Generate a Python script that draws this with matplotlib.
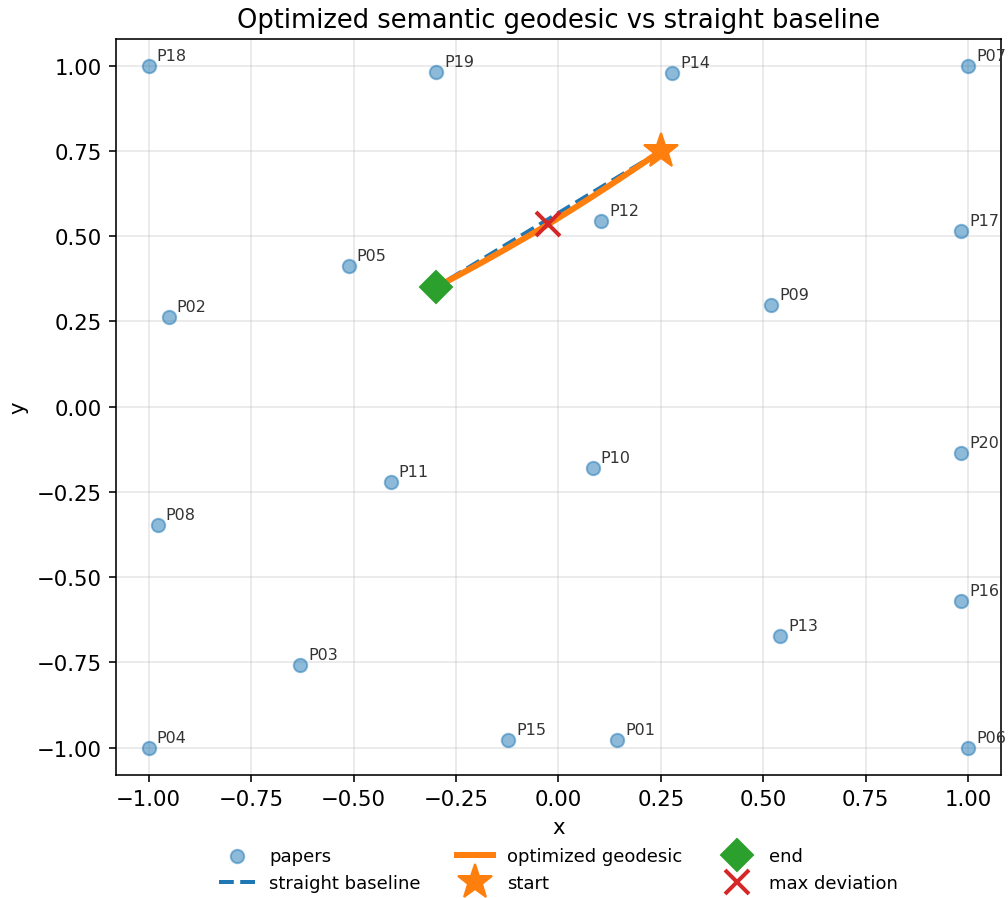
import matplotlib
matplotlib.use("Agg")
import matplotlib.pyplot as plt

paper_ids = ["P01","P02","P03","P04","P05","P06","P07","P08","P09","P10",
             "P11","P12","P13","P14","P15","P16","P17","P18","P19","P20"]
paper_x = [0.143, -0.951, -0.631, -1.0, -0.512, 1.0, 1.0, -0.978, 0.519, 0.084,
           -0.409, 0.104, 0.541, 0.277, -0.123, 0.983, 0.983, -1.0, -0.299, 0.983]
paper_y = [-0.979, 0.263, -0.759, -1.0, 0.413, -1.0, 1.0, -0.348, 0.298, -0.181,
           -0.222, 0.545, -0.674, 0.98, -0.979, -0.571, 0.515, 1.0, 0.982, -0.137]

start = (0.25, 0.75)
end = (-0.30, 0.35)

geo_x = [0.25, 0.195, 0.14, 0.085, 0.03, -0.025, -0.08, -0.135, -0.19, -0.245, -0.30]
geo_y = [0.75, 0.705, 0.661, 0.618, 0.576, 0.535, 0.496, 0.458, 0.421, 0.385, 0.35]

max_dev = (-0.025, 0.535)

fig = plt.figure(figsize=(7.0, 6.243), dpi=144)
ax = fig.add_axes([0.115, 0.137, 0.878, 0.819])

ax.scatter(paper_x, paper_y, s=45, color="#1f77b4", alpha=0.5, label="papers", zorder=2)
for pid, px, py in zip(paper_ids, paper_x, paper_y):
    ax.annotate(pid, (px, py), xytext=(4, 3), textcoords="offset points",
                fontsize=8, color="#333333")

ax.plot([start[0], end[0]], [start[1], end[1]], "--", color="#1f77b4", lw=2,
        label="straight baseline", zorder=3)
ax.plot(geo_x, geo_y, "-", color="#ff7f0e", lw=3, label="optimized geodesic", zorder=4)
ax.plot([start[0]], [start[1]], "*", color="#ff7f0e", ms=18, ls="none", label="start", zorder=5)
ax.plot([end[0]], [end[1]], "D", color="#2ca02c", ms=11, ls="none", label="end", zorder=5)
ax.plot([max_dev[0]], [max_dev[1]], "x", color="#d62728", ms=12, mew=2, ls="none",
        label="max deviation", zorder=6)

ax.set_xlim(-1.08, 1.08)
ax.set_ylim(-1.08, 1.08)
ax.set_xticks([-1.0, -0.75, -0.5, -0.25, 0.0, 0.25, 0.5, 0.75, 1.0])
ax.set_yticks([-1.0, -0.75, -0.5, -0.25, 0.0, 0.25, 0.5, 0.75, 1.0])
ax.tick_params(labelsize=10.6)
ax.grid(True, alpha=0.3)
ax.set_xlabel("x", fontsize=10.6)
ax.set_ylabel("y", fontsize=10.6)
ax.set_title("Optimized semantic geodesic vs straight baseline", fontsize=12.9)
ax.legend(loc="upper center", bbox_to_anchor=(0.5, -0.076), ncol=3, frameon=False,
          fontsize=9)

fig.savefig("out.png", dpi=144)
